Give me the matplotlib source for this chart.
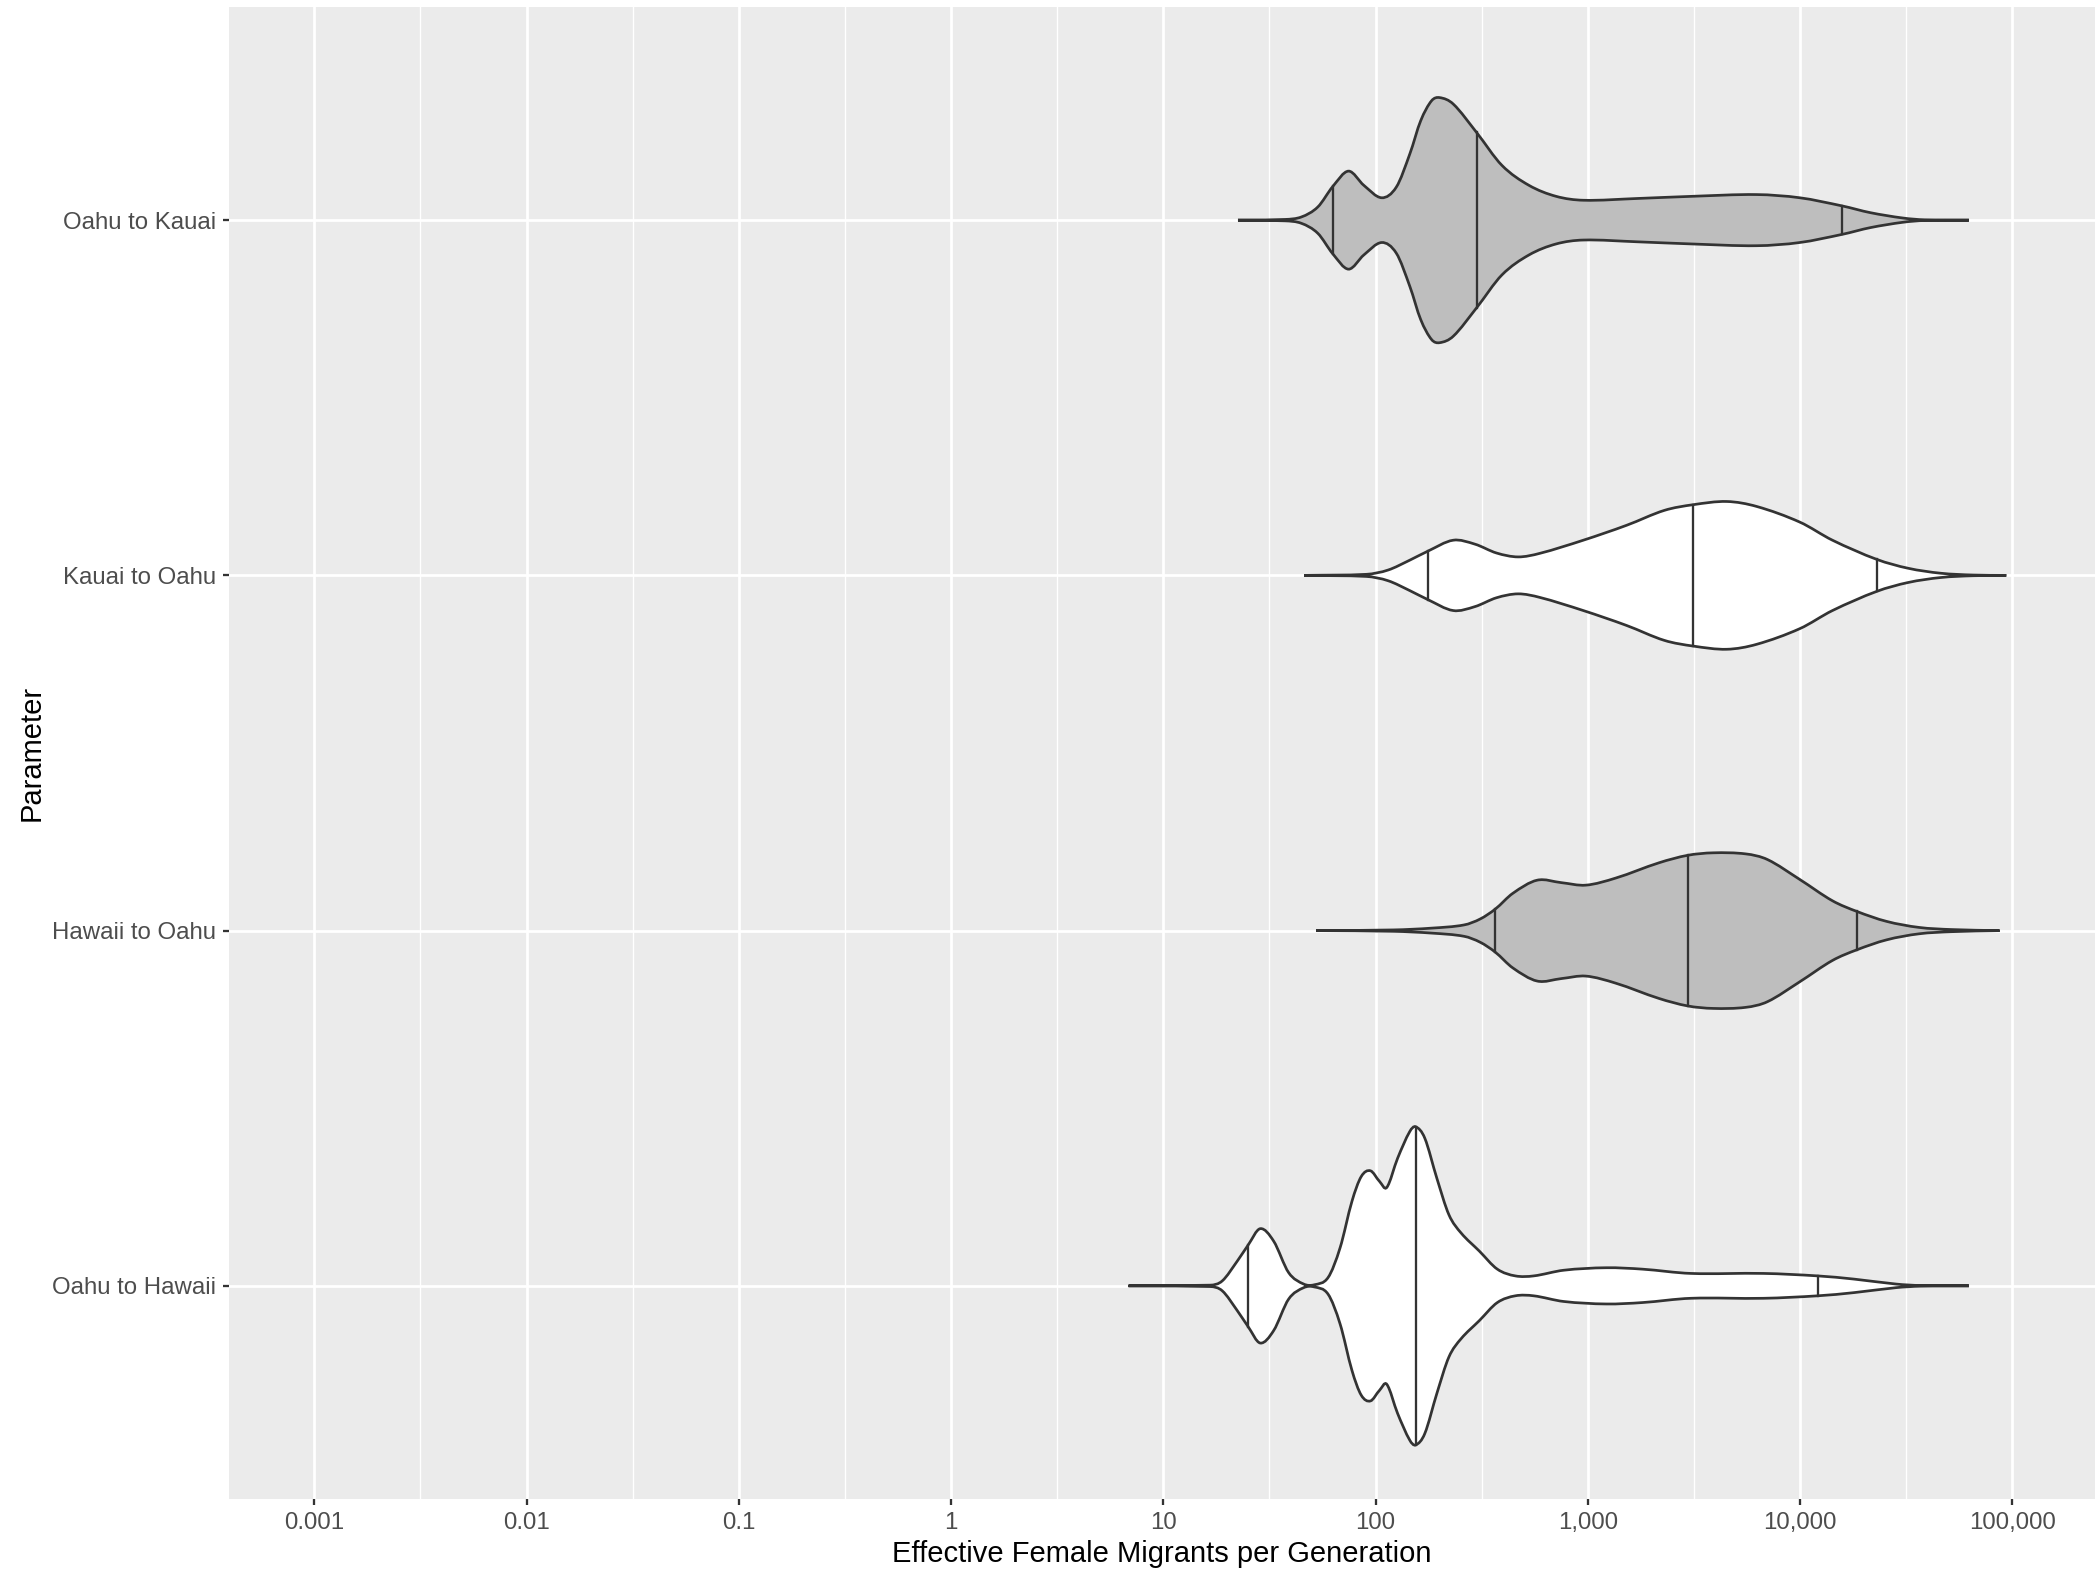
import numpy as np
import matplotlib
matplotlib.use('Agg')
import matplotlib.pyplot as plt
from matplotlib.path import Path
from matplotlib.patches import PathPatch

plt.rcParams['font.family'] = ['Liberation Sans', 'DejaVu Sans']

# categories, bottom to top
params = ['Oahu to Hawaii', 'Hawaii to Oahu', 'Kauai to Oahu', 'Oahu to Kauai']
fills = ['white', '#BEBEBE', 'white', '#BEBEBE']

# violin outlines: log10(migrants) and half width (category units)
oahu_kauai_log = [1.352, 1.574, 1.651, 1.728, 1.799, 1.873, 1.945, 2.029, 2.098, 2.162,
                  2.213, 2.264, 2.302, 2.366, 2.476, 2.596, 2.723, 2.851, 2.979, 3.234,
                  3.489, 3.795, 3.999, 4.199, 4.332, 4.485, 4.587, 4.796]
oahu_kauai_w = [0, 0.002, 0.009, 0.037, 0.095, 0.138, 0.098, 0.063, 0.093, 0.187,
                0.28, 0.336, 0.345, 0.327, 0.247, 0.154, 0.098, 0.067, 0.056, 0.061,
                0.067, 0.072, 0.063, 0.040, 0.021, 0.006, 0.001, 0]

kauai_oahu_log = [1.664, 1.957, 2.059, 2.162, 2.246, 2.366, 2.468, 2.570, 2.672, 2.774,
                  2.979, 3.183, 3.361, 3.497, 3.655, 3.796, 3.999, 4.153, 4.362, 4.510,
                  4.664, 4.817, 4.972]
kauai_oahu_w = [0, 0.003, 0.015, 0.043, 0.068, 0.099, 0.088, 0.063, 0.052, 0.062,
                0.099, 0.141, 0.183, 0.199, 0.208, 0.194, 0.150, 0.099, 0.045, 0.020,
                0.006, 0.001, 0]

hawaii_oahu_log = [1.720, 2.085, 2.264, 2.417, 2.494, 2.565, 2.647, 2.762, 2.876, 2.991,
                   3.132, 3.336, 3.471, 3.591, 3.744, 3.847, 3.999, 4.153, 4.268, 4.408,
                   4.561, 4.715, 4.940]
hawaii_oahu_w = [0, 0.002, 0.007, 0.016, 0.033, 0.061, 0.105, 0.142, 0.135, 0.128,
                 0.148, 0.191, 0.212, 0.219, 0.216, 0.200, 0.144, 0.084, 0.054, 0.026,
                 0.009, 0.003, 0]

oahu_hawaii_log = [0.836, 1.221, 1.278, 1.349, 1.400, 1.457, 1.520, 1.591, 1.662, 1.711,
                   1.776, 1.833, 1.889, 1.933, 1.976, 2.019, 2.053, 2.104, 2.161, 2.189,
                   2.232, 2.289, 2.346, 2.403, 2.489, 2.574, 2.659, 2.745, 2.887, 3.087,
                   3.258, 3.486, 3.828, 4.084, 4.255, 4.454, 4.568, 4.796]
oahu_hawaii_w = [0, 0.002, 0.014, 0.070, 0.115, 0.161, 0.126, 0.037, 0.005, 0.003,
                 0.023, 0.107, 0.238, 0.308, 0.324, 0.294, 0.277, 0.359, 0.434, 0.448,
                 0.416, 0.303, 0.200, 0.149, 0.098, 0.047, 0.028, 0.028, 0.044, 0.051,
                 0.047, 0.035, 0.035, 0.028, 0.019, 0.005, 0.001, 0]

# 2.5%, 50%, 97.5% quantiles (log10)
oahu_hawaii_q = [1.400, 2.189, 4.084]
hawaii_oahu_q = [2.565, 3.471, 4.268]
kauai_oahu_q = [2.246, 3.497, 4.362]
oahu_kauai_q = [1.799, 2.476, 4.199]

outlines = [(oahu_hawaii_log, oahu_hawaii_w, oahu_hawaii_q),
            (hawaii_oahu_log, hawaii_oahu_w, hawaii_oahu_q),
            (kauai_oahu_log, kauai_oahu_w, kauai_oahu_q),
            (oahu_kauai_log, oahu_kauai_w, oahu_kauai_q)]

tick_logs = np.arange(-3, 6)
tick_labels = ['0.001', '0.01', '0.1', '1', '10', '100', '1,000', '10,000', '100,000']


def bezier_edge(xs, ys, sign, c):
    # cubic hermite through the read points (tangent from neighbours), as bezier pieces
    n = len(xs)
    m = np.zeros(n)
    for i in range(n):
        a = max(i - 1, 0)
        b = min(i + 1, n - 1)
        m[i] = (ys[b] - ys[a]) / (xs[b] - xs[a])
    verts = []
    for i in range(n - 1):
        h = xs[i + 1] - xs[i]
        y1 = ys[i] + m[i] * h / 3
        y2 = ys[i + 1] - m[i + 1] * h / 3
        if sign > 0:
            y1, y2 = max(y1, c), max(y2, c)
        else:
            y1, y2 = min(y1, c), min(y2, c)
        verts += [[xs[i] + h / 3, y1], [xs[i + 1] - h / 3, y2], [xs[i + 1], ys[i + 1]]]
    return verts


fig = plt.figure(figsize=(2095 / 300, 1572 / 300), dpi=300)
ax = fig.add_axes([229 / 2095, 1 - 1499 / 1572, 1 - 229 / 2095, 1492 / 1572])
ax.set_facecolor('#EBEBEB')
ax.set_xscale('log')

for k, (lx, w, q) in enumerate(outlines):
    c = k + 1
    lx = np.array(lx)
    w = np.array(w)
    up = bezier_edge(lx, c + w, 1, c)
    lo = bezier_edge(lx[::-1], c - w[::-1], -1, c)
    verts = [[lx[0], c]] + up + [[lx[-1], c]] + lo
    codes = [Path.MOVETO] + [Path.CURVE4] * len(up) + [Path.LINETO] + [Path.CURVE4] * len(lo)
    verts = np.array(verts, dtype=float)
    verts[:, 0] = 10.0 ** verts[:, 0]
    patch = PathPatch(Path(verts, codes), facecolor=fills[k], edgecolor='#333333',
                      lw=0.65, zorder=3)
    ax.add_patch(patch)
    for qv in q:
        wq = np.interp(qv, lx, w)
        ax.plot([10 ** qv, 10 ** qv], [c - wq, c + wq], color='#333333', lw=0.55, zorder=4)

ax.set_xlim(10 ** -3.402, 10 ** 5.39)
ax.set_ylim(0.4, 4.6)
ax.set_xticks(10.0 ** tick_logs)
ax.set_xticklabels(tick_labels)
ax.set_xticks(10.0 ** (tick_logs[:-1] + 0.5), minor=True)
ax.set_xticklabels([], minor=True)
ax.set_yticks(range(1, len(params) + 1))
ax.set_yticklabels(params)

for s in ax.spines.values():
    s.set_visible(False)
ax.grid(which='major', color='white', lw=0.65)
ax.grid(which='minor', axis='x', color='white', lw=0.33)
ax.set_axisbelow(True)
ax.tick_params(which='major', length=1.5, width=0.55, color='#333333',
               labelcolor='#4D4D4D', labelsize=5.75, pad=1.6)
ax.tick_params(which='minor', length=0)

ax.set_xlabel('Effective Female Migrants per Generation', fontsize=7, color='black')
ax.set_ylabel('Parameter', fontsize=7, color='black')
ax.xaxis.set_label_coords(0.5, -(1554 - 1499) / 1492)
ax.xaxis.label.set_va('center')
ax.yaxis.set_label_coords(-(229 - 32) / 1866, 0.5)
ax.yaxis.label.set_va('center')

plt.savefig('out.png', dpi=300)
